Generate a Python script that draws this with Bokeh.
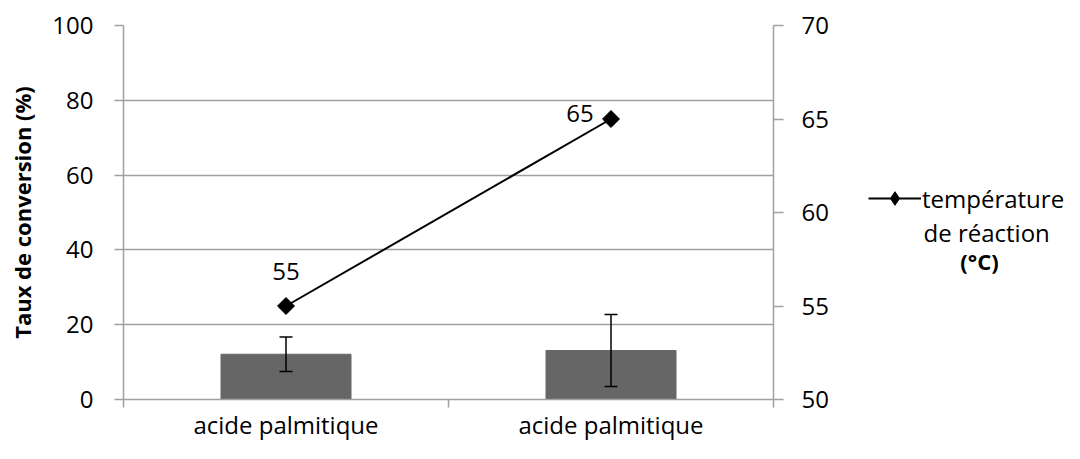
import math
from bokeh.plotting import figure
from bokeh.layouts import row
from bokeh.models import (ColumnDataSource, Range1d, LinearAxis, FixedTicker,
                          Whisker, TeeHead, Legend, LegendItem, Label)
from bokeh.core.properties import value
from bokeh.embed import file_html
from bokeh.resources import INLINE

# ---- data ----
categories = ["acide palmitique", "acide palmitique"]
conversion = [12.1, 13.1]          # Taux de conversion (%)
conversion_err = [4.6, 9.6]        # error bar half-length
temperature = [55, 65]             # température de réaction (°C)
left_ticks = [0, 20, 40, 60, 80, 100]
right_ticks = [50, 55, 60, 65, 70]
series_name = ["température", "de réaction", "(°C)"]

FONT = "Open Sans"
GRAY = "#a0a0a0"

xpos = [i + 0.5 for i in range(len(categories))]
src = ColumnDataSource(dict(
    x=xpos,
    conv=conversion,
    upper=[c + e for c, e in zip(conversion, conversion_err)],
    lower=[c - e for c, e in zip(conversion, conversion_err)],
    temp=temperature,
    temp_txt=[str(t) for t in temperature],
    dx=[0, -31],
    dy=[-35, -6],
))

P_W, H = 843, 443
p = figure(width=P_W, height=H, output_backend="svg", toolbar_location=None,
           x_range=Range1d(0, len(categories)), y_range=Range1d(0, 100),
           min_border_left=123, min_border_right=70, min_border_top=25,
           min_border_bottom=36)
p.outline_line_color = None
p.background_fill_color = "white"
p.border_fill_color = "white"
p.extra_y_ranges = {"temp": Range1d(50, 70)}

# grid
p.xgrid.visible = False
p.ygrid.ticker = FixedTicker(ticks=left_ticks)
p.ygrid.grid_line_color = GRAY
p.ygrid.grid_line_width = 1.5

# bottom axis (categories; ticks between categories)
xa = p.xaxis[0]
xa.ticker = FixedTicker(ticks=xpos, minor_ticks=list(range(len(categories) + 1)))
xa.major_label_overrides = {x: c for x, c in zip(xpos, categories)}
xa.major_tick_line_color = None
xa.major_tick_out = 0
xa.major_tick_in = 0
xa.minor_tick_out = 8
xa.minor_tick_in = 0
xa.minor_tick_line_color = GRAY
xa.minor_tick_line_width = 1.5
xa.axis_line_color = GRAY
xa.axis_line_width = 1.5
xa.major_label_standoff = 0
xa.major_label_text_font = FONT
xa.major_label_text_font_size = "24px"
xa.major_label_text_color = "black"

# left axis
ya = p.yaxis[0]
ya.ticker = FixedTicker(ticks=left_ticks)
ya.minor_tick_line_color = None
ya.major_tick_out = 9
ya.major_tick_in = 0
ya.major_tick_line_color = GRAY
ya.major_tick_line_width = 1.5
ya.axis_line_color = GRAY
ya.axis_line_width = 1.5
ya.major_label_standoff = 21
ya.major_label_text_font = FONT
ya.major_label_text_font_size = "24px"
ya.major_label_text_color = "black"
ya.axis_label = "Taux de conversion (%)"
ya.axis_label_text_font = FONT
ya.axis_label_text_font_size = "22px"
ya.axis_label_text_font_style = "bold"
ya.axis_label_text_color = "black"
ya.axis_label_standoff = 12

# right axis
ra = LinearAxis(y_range_name="temp", ticker=FixedTicker(ticks=right_ticks))
ra.minor_tick_line_color = None
ra.major_tick_out = 10
ra.major_tick_in = 0
ra.major_tick_line_color = GRAY
ra.major_tick_line_width = 1.5
ra.axis_line_color = GRAY
ra.axis_line_width = 1.5
ra.major_label_standoff = 18
ra.major_label_text_font = FONT
ra.major_label_text_font_size = "24px"
ra.major_label_text_color = "black"
p.add_layout(ra, "right")

# bars
p.vbar(x="x", top="conv", bottom=0, width=0.4, source=src,
       fill_color="#666666", line_color="#666666")

# error bars
wh = Whisker(base="x", upper="upper", lower="lower", source=src, level="overlay",
             line_color="black", line_width=1.5,
             upper_head=TeeHead(size=13, line_color="black", line_width=1.5),
             lower_head=TeeHead(size=13, line_color="black", line_width=1.5))
p.add_layout(wh)

# temperature line
LINE_KW = dict(line_color="black", line_width=2)
p.line(x="x", y="temp", source=src, y_range_name="temp", **LINE_KW)
p.scatter(x="x", y="temp", source=src, y_range_name="temp",
          marker="square", angle=math.pi / 4, size=12,
          fill_color="black", line_color="black")
p.text(x="x", y="temp", text="temp_txt", source=src, y_range_name="temp",
       x_offset="dx", y_offset="dy", text_align="center",
       text_baseline="middle", text_font=value(FONT),
       text_font_size="24px", text_color="black")

# ---- legend panel (to the right of the chart, frame aligned with it) ----
L_W = 1064 - P_W
q = figure(width=L_W, height=H, output_backend="svg", toolbar_location=None,
           x_range=Range1d(0, L_W), y_range=p.y_range,
           min_border_left=0, min_border_right=0, min_border_top=25,
           min_border_bottom=36, x_axis_type=None, y_axis_type=None)
q.outline_line_color = None
q.grid.visible = False
q.border_fill_color = "white"
q.background_fill_color = "white"
ln = q.line(x="x", y="temp", source=src, visible=False, **LINE_KW)
mk = q.scatter(x="x", y="temp", source=src, visible=False, marker="diamond",
               fill_color="black", line_color="black")

leg = Legend(items=[LegendItem(label=series_name[0], renderers=[ln, mk])],
             location=(25, 184), padding=0, margin=0, spacing=0,
             glyph_width=53, glyph_height=34, label_standoff=1,
             label_text_font=FONT, label_text_font_size="24px",
             label_text_color="black", click_policy="none",
             background_fill_alpha=0, border_line_alpha=0)
q.add_layout(leg)
q.add_layout(Label(x=80, y=44.7, text=series_name[1], text_align="left",
                   text_baseline="middle", text_font=FONT,
                   text_font_size="24px", text_color="black"))
q.add_layout(Label(x=136, y=37.1, text=series_name[2], text_align="center",
                   text_baseline="middle", text_font=FONT,
                   text_font_size="22px", text_font_style="bold",
                   text_color="black"))

open("out.html", "w").write(file_html(row(p, q), INLINE))
